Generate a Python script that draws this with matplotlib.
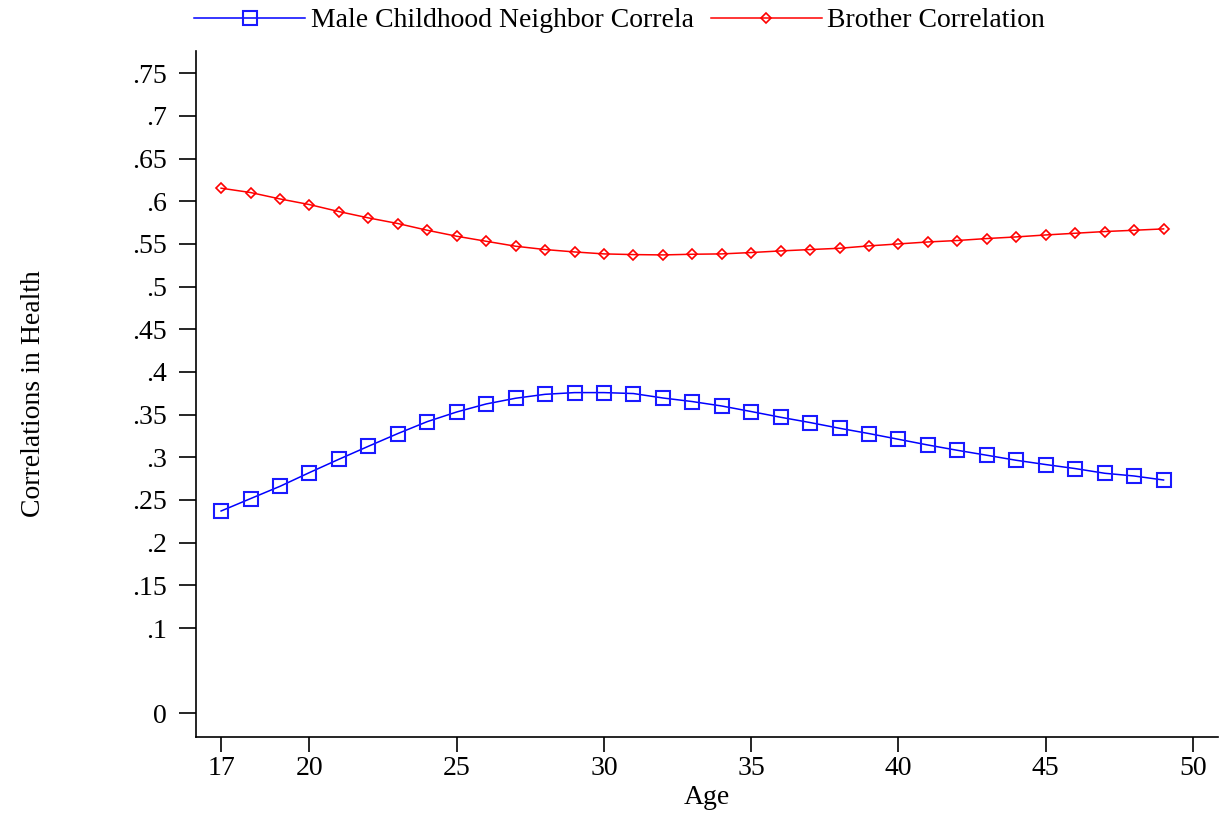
import numpy as np
import matplotlib.pyplot as plt

plt.rcParams['font.family'] = ['Liberation Serif', 'DejaVu Serif']

ages = list(range(17, 50))

neighbor_corr = [0.2371, 0.2516, 0.2660, 0.2821, 0.2977, 0.3129, 0.3278, 0.3418,
                 0.3531, 0.3625, 0.3692, 0.3738, 0.3758, 0.3758, 0.3747, 0.3695,
                 0.3653, 0.3601, 0.3536, 0.3469, 0.3407, 0.3340, 0.3278, 0.3211,
                 0.3144, 0.3082, 0.3024, 0.2965, 0.2915, 0.2868, 0.2813, 0.2781,
                 0.2734]

brother_corr = [0.6153, 0.6102, 0.6027, 0.5961, 0.5879, 0.5805, 0.5739, 0.5660,
                0.5590, 0.5531, 0.5473, 0.5434, 0.5406, 0.5383, 0.5375, 0.5371,
                0.5379, 0.5383, 0.5399, 0.5418, 0.5434, 0.5449, 0.5477, 0.5500,
                0.5523, 0.5540, 0.5563, 0.5582, 0.5605, 0.5625, 0.5645, 0.5660,
                0.5676]

xticks = [17, 20, 25, 30, 35, 40, 45, 50]
yticks = [0, .1, .15, .2, .25, .3, .35, .4, .45, .5, .55, .6, .65, .7, .75]
ytick_labels = ['0', '.1', '.15', '.2', '.25', '.3', '.35', '.4', '.45', '.5',
                '.55', '.6', '.65', '.7', '.75']

fig = plt.figure(figsize=(12.2, 8.15), dpi=100)
ax = fig.add_axes([0.1607, 0.0957, 0.8377, 0.8417])

ax.plot(ages, neighbor_corr, color='#0000ff', lw=1.1, marker='s', markersize=9.5,
        markerfacecolor='none', markeredgecolor='#1a1aff', markeredgewidth=1.5,
        label='Male Childhood Neighbor Correla')
ax.plot(ages, brother_corr, color='#ff0000', lw=1.1, marker='D', markersize=5,
        markerfacecolor='none', markeredgecolor='#ff0000', markeredgewidth=1.2,
        label='Brother Correlation')

ax.set_xlim(16.15, 50.85)
ax.set_ylim(-0.0277, 0.776)
ax.set_xticks(xticks)
ax.set_yticks(yticks)
ax.set_yticklabels(ytick_labels)
ax.tick_params(axis='y', length=12, width=1.2, labelsize=20, pad=9)
ax.tick_params(axis='x', length=10.5, width=1.2, labelsize=20, pad=3)

for side in ['top', 'right']:
    ax.spines[side].set_visible(False)
for side in ['left', 'bottom']:
    ax.spines[side].set_linewidth(1.2)

ax.set_xlabel('Age', fontsize=20, labelpad=3)
ax.set_ylabel('Correlations in Health', fontsize=20, labelpad=62)

fig.legend(loc='upper center', bbox_to_anchor=(0.508, 1.021), ncol=2, frameon=False,
           fontsize=20, handlelength=4.0, handletextpad=0.2, columnspacing=0.6)

fig.savefig('out.png', dpi=100)
